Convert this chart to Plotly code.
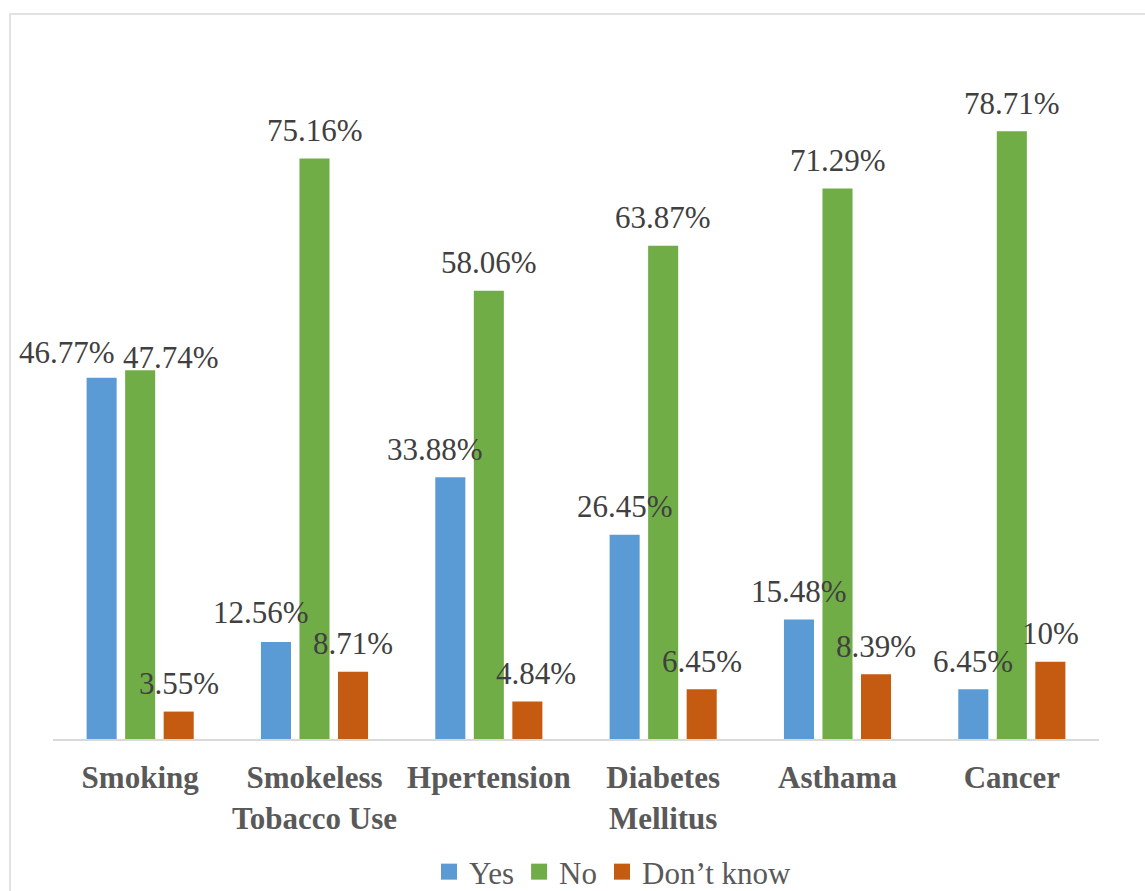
import plotly.graph_objects as go

# Survey responses (percent) per condition
categories = ["Smoking", "Smokeless<br>Tobacco Use", "Hpertension",
              "Diabetes<br>Mellitus", "Asthama", "Cancer"]
yes = [46.77, 12.56, 33.88, 26.45, 15.48, 6.45]
no = [47.74, 75.16, 58.06, 63.87, 71.29, 78.71]
dont_know = [3.55, 8.71, 4.84, 6.45, 8.39, 10]

series_names = ["Yes", "No", "Don\u2019t know"]
series_values = [yes, no, dont_know]
series_colors = ["#5B9BD5", "#70AD47", "#C55A11"]

# Canvas and plot-area geometry (pixels)
W, H = 1145, 891
PL, PR, PT, PB = 53, 1099, 44, 739
BARGAP, GROUPGAP = 0.337, 0.22
SERIF = "Liberation Serif"

# Hand-placed label nudges (series, category) -> (dx, dy) in pixels
label_nudge = {
    (0, 0): (-35, -3),
    (1, 0): (31, -15),
    (0, 1): (-15, 2),
    (0, 2): (-15, 0),
    (2, 2): (9, 0),
}

fig = go.Figure()
xs = list(range(len(categories)))
for name, vals, color in zip(series_names, series_values, series_colors):
    fig.add_trace(go.Bar(x=xs, y=vals, name=name, marker_color=color,
                         marker_line_width=0, showlegend=False))
    # legend swatch
    fig.add_trace(go.Scatter(x=[None], y=[None], mode="markers", name=name,
                             marker=dict(symbol="square", size=16, color=color)))

pitch = (1 - BARGAP) / 3
annotations = []
for i, vals in enumerate(series_values):
    for j, v in enumerate(vals):
        dx, dy = label_nudge.get((i, j), (0, 0))
        annotations.append(dict(
            x=j + (i - 1) * pitch, y=v, xref="x", yref="y",
            text=f"{v:g}%", showarrow=False, yanchor="middle",
            xshift=dx, yshift=28 + dy,
            font=dict(family=SERIF, size=31, color="#404040")))

pw, ph = PR - PL, PB - PT
fig.update_layout(
    width=W, height=H,
    margin=dict(l=PL, r=W - PR, t=PT, b=H - PB, pad=0, autoexpand=False),
    paper_bgcolor="white", plot_bgcolor="white",
    barmode="group", bargap=BARGAP, bargroupgap=GROUPGAP,
    annotations=annotations,
    xaxis=dict(tickmode="array", tickvals=xs, ticktext=categories,
               range=[-0.5, len(categories) - 0.5],
               showline=True, linecolor="#d9d9d9", linewidth=2,
               showgrid=False, zeroline=False, ticks="", automargin=False,
               ticklabelstandoff=10,
               tickfont=dict(family=SERIF, size=31, color="#595959", weight="bold")),
    yaxis=dict(range=[0, 90], visible=False, showgrid=False, zeroline=False),
    legend=dict(orientation="h", x=(429 - PL) / pw, xanchor="left",
                y=(PB - 872) / ph, yanchor="middle",
                font=dict(family=SERIF, size=31, color="#595959"),
                itemclick=False),
    shapes=[dict(type="rect", xref="paper", yref="paper", layer="below",
                 x0=(10 - PL) / pw, x1=(1160 - PL) / pw,
                 y0=(PB - 905) / ph, y1=(PB - 14) / ph,
                 line=dict(color="#d9d9d9", width=1.5), fillcolor="rgba(0,0,0,0)")],
)

fig.write_html("out.html")
